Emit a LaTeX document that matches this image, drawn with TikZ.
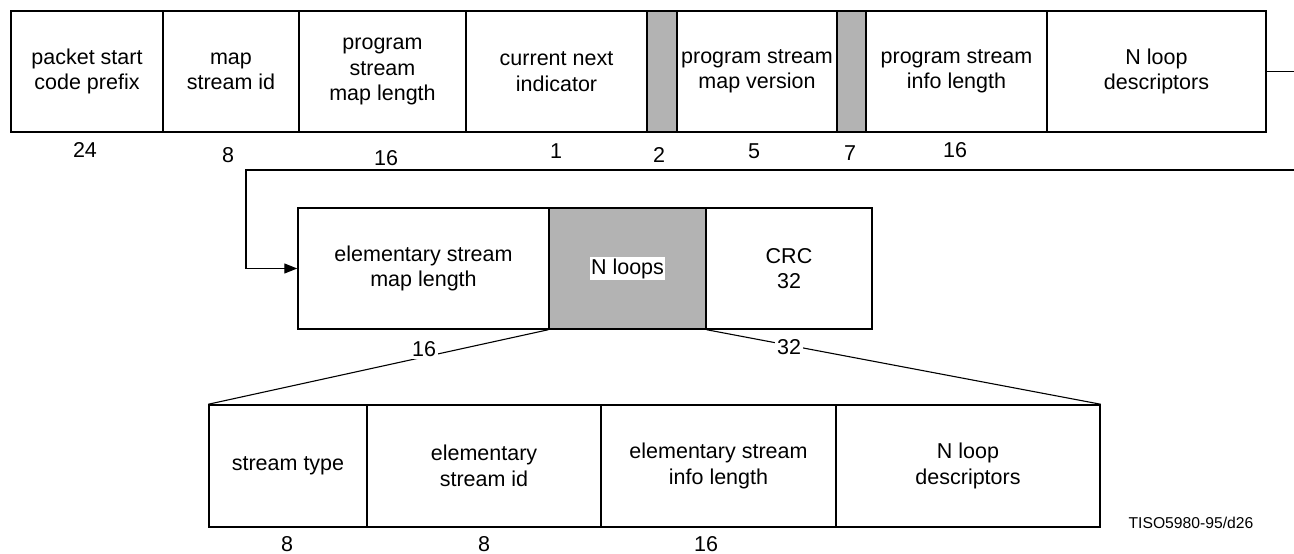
\documentclass[tikz,border=0pt]{standalone}
\usepackage{fontspec}
\setmainfont{Liberation Sans}
\usetikzlibrary{arrows.meta}
\definecolor{cellgray}{HTML}{B3B3B3}
\begin{document}
\begin{tikzpicture}[x=1pt,y=-1pt,
  cell/.style={draw, line width=1.5pt, inner sep=0pt, align=center,
    font=\fontsize{21.5}{25.5}\selectfont},
  row1/.style={cell, minimum height=121pt},
  row2/.style={cell, minimum height=121pt},
  row3/.style={cell, minimum height=122pt},
  shaded/.style={fill=cellgray},
  bits/.style={inner sep=1pt, font=\fontsize{21.5}{25.5}\selectfont},
  onwhite/.style={bits, fill=white, inner sep=2pt},
  conn/.style={line width=1.3pt},
  slant/.style={line width=1.1pt}]
\useasboundingbox (0,0) rectangle (1294,554);
% top row
\node[row1, minimum width=152pt] (a) at (87,71.5) {packet start\\code prefix};
\node[row1, minimum width=136pt] (b) at (231,71.5) {map\\stream id};
\node[row1, minimum width=167pt] (c) at (382.5,71.5) {program\\stream\\map length};
\node[row1, minimum width=181pt] (d) at (556.5,71.5) {current next\\indicator};
\node[row1, shaded, minimum width=30pt] (g1) at (662,71.5) {};
\node[row1, minimum width=160pt] (e) at (757,71.5) {program stream\\map version};
\node[row1, shaded, minimum width=29pt] (g2) at (851.5,71.5) {};
\node[row1, minimum width=181pt] (f) at (956.5,71.5) {program stream\\info length};
\node[row1, minimum width=219pt] (h) at (1156.5,71.5) {N loop\\descriptors};
% top bit counts
\node[bits] (t1) at (85,150) {24};
\node[bits] (t2) at (228,155) {8};
\node[bits] (t3) at (386,158) {16};
\node[bits] (t4) at (556,151) {1};
\node[bits] (t5) at (659,155) {2};
\node[bits] (t6) at (754,151) {5};
\node[bits] (t7) at (850,153) {7};
\node[bits] (t8) at (955,150) {16};
% middle row
\node[row2, minimum width=251pt] (m1) at (423.5,268.5) {elementary stream\\map length};
\node[row2, shaded, minimum width=157pt] (m2) at (627.5,268.5) {};
\node[row2, minimum width=166pt] (m3) at (789,268.5) {CRC\\32};
\node[fill=white, inner sep=1pt, font=\fontsize{21.5}{25.5}\selectfont] (nl) at (m2.center) {N loops};
% connector
\coordinate (r1) at (1297,71.5);
\coordinate (r2) at (1297,170);
\coordinate (l1) at (246,170);
\coordinate (l2) at (246,268.5);
\draw[conn] (h.east) -- (r1) -- (r2) -- (l1) -- (l2);
\draw[conn, -{Triangle[length=13pt,width=10pt]}] (l2) -- (m1.west);
% bottom row
\node[row3, minimum width=158pt] (b1) at (288,466) {stream type};
\node[row3, minimum width=234pt] (b2) at (484,466) {elementary\\stream id};
\node[row3, minimum width=235pt] (b3) at (718.5,466) {elementary stream\\info length};
\node[row3, minimum width=264pt] (b4) at (968,466) {N loop\\descriptors};
% expansion lines
\draw[slant] (m2.south west) -- (b1.north west);
\draw[slant] (m2.south east) -- (b4.north east);
\node[onwhite] (s1) at (424,349) {16};
\node[onwhite] (s2) at (789,347) {32};
% bottom bit counts
\node[bits] (u1) at (287,544) {8};
\node[bits] (u2) at (484,544) {8};
\node[bits] (u3) at (706,544) {16};
\node[inner sep=0pt, font=\fontsize{15.7}{18}\selectfont] (id) at (1191,523) {TISO5980-95/d26};
\end{tikzpicture}
\end{document}
